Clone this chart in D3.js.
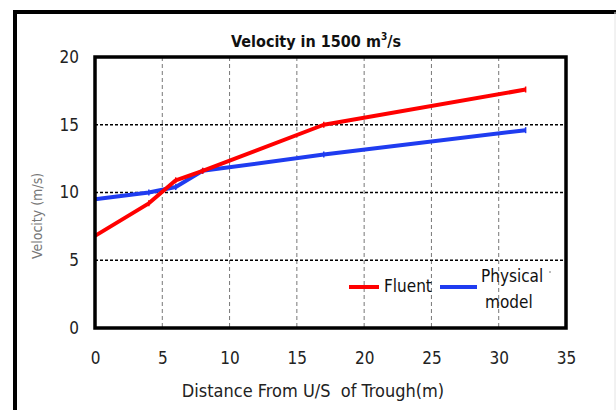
<!DOCTYPE html>
<html lang="en">
    <head>
        <meta charset="utf-8">
        <title>Velocity in 1500 m3/s</title>
        <script src="https://d3js.org/d3.v7.min.js"></script>
        <style>
            body { margin: 0; background: #fff; }
            text { font-family: "Liberation Sans Narrow", "DejaVu Sans Condensed", sans-serif; white-space: pre; }
        </style>
    </head>
    <body>
        <div class="chart"></div>
        <script type="text/javascript">
            // 数据: 距离(m) 与 两组流速(m/s)
            var distance = [0, 4, 6, 8, 17, 32];
            var fluent = [6.8, 9.2, 10.9, 11.6, 15.0, 17.6];
            var physical = [9.5, 10.0, 10.4, 11.6, 12.8, 14.6];
            var xTicks = [0, 5, 10, 15, 20, 25, 30, 35];
            var yTicks = [0, 5, 10, 15, 20];
            var seriesNames = ["Fluent", "Physical model"];
            var seriesColors = ["#ff0000", "#1f3cf0"];

            var w = 616, h = 410;
            var svg = d3.select("div.chart")
                        .append("svg")
                        .attr("width", w)
                        .attr("height", h);

            // 外框
            svg.append("rect")
                .attr("x", 15).attr("y", 12)
                .attr("width", 640).attr("height", 420)
                .attr("fill", "none")
                .attr("stroke", "#000")
                .attr("stroke-width", 4);
            svg.append("line")
                .attr("x1", 615).attr("x2", 615)
                .attr("y1", 12).attr("y2", h)
                .attr("stroke", "#e4e4e4");

            var pLeft = 95, pRight = 566, pTop = 57, pBottom = 328;
            var x = d3.scaleLinear().domain([0, 35]).range([pLeft, pRight]);
            var y = d3.scaleLinear().domain([0, 20]).range([pBottom, pTop]);

            // 网格线
            svg.append("g")
                .selectAll("line")
                .data(xTicks.filter(function(d){ return d > 0 && d < 35; }))
                .enter().append("line")
                .attr("x1", function(d){ return x(d); })
                .attr("x2", function(d){ return x(d); })
                .attr("y1", pTop).attr("y2", pBottom)
                .attr("stroke", "#777")
                .attr("stroke-width", 1)
                .attr("stroke-dasharray", "4,3");
            svg.append("g")
                .selectAll("line")
                .data(yTicks.filter(function(d){ return d > 0 && d < 20; }))
                .enter().append("line")
                .attr("x1", pLeft).attr("x2", pRight)
                .attr("y1", function(d){ return y(d); })
                .attr("y2", function(d){ return y(d); })
                .attr("stroke", "#000")
                .attr("stroke-width", 1.3)
                .attr("stroke-dasharray", "3,2");

            // 坐标轴刻度文字
            var xAxis = svg.append("g")
                .attr("transform", "translate(0," + (pBottom + 30) + ")")
                .call(d3.axisBottom(x).tickValues(xTicks).tickSize(0).tickPadding(0));
            xAxis.select(".domain").remove();
            xAxis.selectAll("text")
                .attr("font-size", 17)
                .attr("fill", "#222")
                .attr("dy", "0.35em");

            var yAxis = svg.append("g")
                .attr("transform", "translate(" + (pLeft - 16) + ",0)")
                .call(d3.axisLeft(y).tickValues(yTicks).tickSize(0).tickPadding(0));
            yAxis.select(".domain").remove();
            yAxis.selectAll("text")
                .attr("font-size", 17)
                .attr("fill", "#222");

            // 折线
            var line = d3.line()
                .x(function(d){ return x(d[0]); })
                .y(function(d){ return y(d[1]); });
            [physical, fluent].forEach(function(vals, k) {
                var color = k === 0 ? seriesColors[1] : seriesColors[0];
                var pts = distance.map(function(d, i){ return [d, vals[i]]; });
                svg.append("path")
                    .datum(pts)
                    .attr("d", line)
                    .attr("fill", "none")
                    .attr("stroke", color)
                    .attr("stroke-width", 4)
                    .attr("stroke-linejoin", "round");
                svg.append("g").selectAll("line")
                    .data(pts)
                    .enter().append("line")
                    .attr("x1", function(d){ return x(d[0]); })
                    .attr("x2", function(d){ return x(d[0]); })
                    .attr("y1", function(d){ return y(d[1]) - 3; })
                    .attr("y2", function(d){ return y(d[1]) + 3; })
                    .attr("stroke", color)
                    .attr("stroke-width", 1.5);
            });

            // 绘图区边框
            svg.append("rect")
                .attr("x", pLeft).attr("y", pTop)
                .attr("width", pRight - pLeft).attr("height", pBottom - pTop)
                .attr("fill", "none")
                .attr("stroke", "#000")
                .attr("stroke-width", 3.5);

            // 标题
            var title = svg.append("text")
                .attr("x", 316).attr("y", 47)
                .attr("text-anchor", "middle")
                .attr("font-size", 16)
                .attr("font-weight", "bold")
                .attr("fill", "#111");
            title.append("tspan").text("Velocity in 1500 m");
            title.append("tspan").attr("font-size", 10).attr("dy", -7).text("3");
            title.append("tspan").attr("dy", 7).text("/s");

            svg.append("text")
                .attr("x", 313).attr("y", 397)
                .attr("text-anchor", "middle")
                .attr("font-size", 18)
                .attr("fill", "#222")
                .text("Distance From U/S  of Trough(m)");

            svg.append("text")
                .attr("transform", "translate(42,216) rotate(-90)")
                .attr("text-anchor", "middle")
                .attr("font-size", 14)
                .attr("fill", "#777")
                .text("Velocity (m/s)");

            // 图例
            var legend = [
                {name: seriesNames[0], color: seriesColors[0], x1: 349, x2: 379},
                {name: seriesNames[1], color: seriesColors[1], x1: 440, x2: 477}
            ];
            legend.forEach(function(d) {
                svg.append("line")
                    .attr("x1", d.x1).attr("x2", d.x2)
                    .attr("y1", 287).attr("y2", 287)
                    .attr("stroke", d.color)
                    .attr("stroke-width", 4);
                svg.append("line")
                    .attr("x1", (d.x1 + d.x2) / 2).attr("x2", (d.x1 + d.x2) / 2)
                    .attr("y1", 285).attr("y2", 289)
                    .attr("stroke", d.color)
                    .attr("stroke-width", 1.5);
            });
            svg.append("text")
                .attr("x", 384).attr("y", 292)
                .attr("font-size", 17)
                .attr("fill", "#111")
                .text(seriesNames[0]);
            var pm = svg.append("text")
                .attr("font-size", 17)
                .attr("fill", "#111");
            pm.append("tspan").attr("x", 481).attr("y", 282).text("Physical");
            pm.append("tspan").attr("x", 485).attr("y", 308).text("model");
            svg.append("circle")
                .attr("cx", 550).attr("cy", 272).attr("r", 0.8)
                .attr("fill", "#666");
        </script>
    </body>
</html>
